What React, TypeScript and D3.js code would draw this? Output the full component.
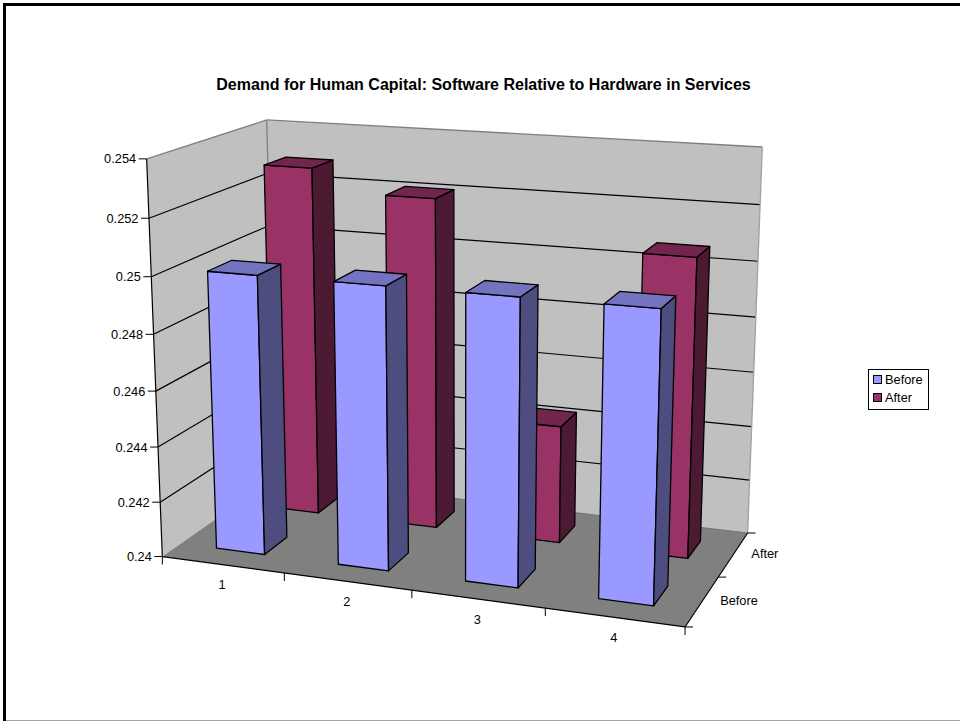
import React from "react";
import * as d3 from "d3";

const categories = ["1", "2", "3", "4"];
const seriesNames = ["Before", "After"];
const beforeValues = [0.25, 0.25, 0.25, 0.25];
const afterValues = [0.2529, 0.2521, 0.2443, 0.2507];
const yTicks = [0.24, 0.242, 0.244, 0.246, 0.248, 0.25, 0.252, 0.254];
const yTickLabels = ["0.24", "0.242", "0.244", "0.246", "0.248", "0.25", "0.252", "0.254"];

const FONT = "'Liberation Sans', Arial, sans-serif";
const seriesColors = {
  Before: { front: "#9999ff", top: "#7373bf", side: "#4d4d80" },
  After: { front: "#993366", top: "#73264d", side: "#4d1a33" },
};

type V3 = [number, number, number];

// Camera calibration for the unit plot box: (x, value, depth) -> screen point.
const calibration: [V3, [number, number]][] = [
  [[0, 0, 0], [162.3, 556.7]],
  [[1, 0, 0], [685, 627]],
  [[1, 0, 1], [747.7, 532.7]],
  [[0, 1, 0], [146.7, 159]],
  [[0, 1, 1], [266.7, 120]],
  [[1, 1, 1], [762.3, 146.7]],
  [[0, 4 / 7, 0], [153.6, 334]],
  [[1, 4 / 7, 1], [755.8, 317.7]],
];

// Least-squares fit of a 3x4 projective matrix whose last entry is fixed to 1.
function fitProjection(pairs: typeof calibration): number[] {
  const n = 11;
  const ata = Array.from({ length: n }, () => new Array(n + 1).fill(0));
  const addRow = (row: number[], rhs: number) => {
    for (let i = 0; i < n; i++) {
      for (let j = 0; j < n; j++) ata[i][j] += row[i] * row[j];
      ata[i][n] += row[i] * rhs;
    }
  };
  for (const [[x, y, z], [u, v]] of pairs) {
    addRow([x, y, z, 1, 0, 0, 0, 0, -u * x, -u * y, -u * z], u);
    addRow([0, 0, 0, 0, x, y, z, 1, -v * x, -v * y, -v * z], v);
  }
  for (let c = 0; c < n; c++) {
    let best = c;
    for (let r = c + 1; r < n; r++) if (Math.abs(ata[r][c]) > Math.abs(ata[best][c])) best = r;
    [ata[c], ata[best]] = [ata[best], ata[c]];
    for (let r = 0; r < n; r++) {
      if (r === c) continue;
      const f = ata[r][c] / ata[c][c];
      for (let k = c; k <= n; k++) ata[r][k] -= f * ata[c][k];
    }
  }
  return ata.map((row, i) => row[n] / row[i]);
}

const m = fitProjection(calibration);
const project = ([x, y, z]: V3): [number, number] => {
  const w = m[8] * x + m[9] * y + m[10] * z + 1;
  return [
    (m[0] * x + m[1] * y + m[2] * z + m[3]) / w,
    (m[4] * x + m[5] * y + m[6] * z + m[7]) / w,
  ];
};

const xBand = d3.scaleBand<string>().domain(categories).range([0, 1]);
const zBand = d3.scaleBand<string>().domain(seriesNames).range([0, 1]);
const yScale = d3.scaleLinear().domain([0.24, 0.254]).range([0, 1]);

const line = d3.line<V3>().x((p) => project(p)[0]).y((p) => project(p)[1]);
const closed = (pts: V3[]) => line(pts) + "Z";

function Bar({ cat, series, value }: { cat: string; series: "Before" | "After"; value: number }) {
  const bw = xBand.bandwidth();
  const bd = zBand.bandwidth();
  const x0 = xBand(cat)! + bw * 0.3;
  const x1 = x0 + bw * 0.4;
  const z0 = zBand(series)! + bd * 0.3;
  const z1 = z0 + bd * 0.4;
  const top = yScale(value);
  const colors = seriesColors[series];
  const faceProps = { stroke: "#000", strokeWidth: 1.3, strokeLinejoin: "round" as const };
  return (
    <g>
      <path d={closed([[x0, 0, z0], [x1, 0, z0], [x1, top, z0], [x0, top, z0]])} fill={colors.front} {...faceProps} />
      <path d={closed([[x1, 0, z0], [x1, 0, z1], [x1, top, z1], [x1, top, z0]])} fill={colors.side} {...faceProps} />
      <path d={closed([[x0, top, z0], [x1, top, z0], [x1, top, z1], [x0, top, z1]])} fill={colors.top} {...faceProps} />
    </g>
  );
}

export default function App() {
  const gridTicks = yTicks.slice(1, -1);
  const textProps = { fontFamily: FONT, fontSize: 12.8, fill: "#000" };
  const seg = (a: V3, b: V3, stroke: string, key?: string, w = 1.2) => {
    const [x1, y1] = project(a);
    const [x2, y2] = project(b);
    return <line key={key} x1={x1} y1={y1} x2={x2} y2={y2} stroke={stroke} strokeWidth={w} />;
  };
  return (
    <svg width={960} height={721} style={{ position: "fixed", left: 0, top: 0, background: "#fff" }}>
      {/* page frame: heavy top and left rules, faint bottom rule */}
      <rect x={3} y={3} width={957} height={3} fill="#000" />
      <rect x={3} y={3} width={3} height={718} fill="#000" />
      <rect x={6} y={720} width={954} height={1} fill="#a6a6a6" />

      <text x={483.5} y={90} textAnchor="middle" fontFamily={FONT} fontWeight="bold" fontSize={16}>
        Demand for Human Capital: Software Relative to Hardware in Services
      </text>

      <path d={closed([[0, 0, 0], [0, 1, 0], [0, 1, 1], [0, 0, 1]])} fill="#c0c0c0" />
      <path d={closed([[0, 0, 1], [0, 1, 1], [1, 1, 1], [1, 0, 1]])} fill="#c0c0c0" />
      <path d={closed([[0, 0, 0], [1, 0, 0], [1, 0, 1], [0, 0, 1]])} fill="#808080" />

      {gridTicks.map((t) => (
        <g key={t}>
          {seg([0, yScale(t), 0], [0, yScale(t), 1], "#000", "l")}
          {seg([0, yScale(t), 1], [1, yScale(t), 1], "#000", "b")}
        </g>
      ))}

      {seg([0, 1, 0], [0, 1, 1], "#808080", "e1", 1.3)}
      {seg([0, 1, 1], [1, 1, 1], "#808080", "e2", 1.3)}
      {seg([0, 1, 1], [0, 0, 1], "#808080", "e3", 1.3)}
      {seg([1, 1, 1], [1, 0, 1], "#a0a0a0", "e4", 1.3)}
      {seg([0, 0, 1], [1, 0, 1], "#707070", "e5", 1)}

      {afterValues.map((v, i) => (
        <Bar key={"a" + i} cat={categories[i]} series="After" value={v} />
      ))}
      {beforeValues.map((v, i) => (
        <Bar key={"b" + i} cat={categories[i]} series="Before" value={v} />
      ))}

      {/* value axis */}
      {seg([0, 0, 0], [0, 1, 0], "#000", "ya")}
      {yTicks.map((t, i) => {
        const [x, y] = project([0, yScale(t), 0]);
        return (
          <g key={t}>
            <line x1={x - 8} y1={y} x2={x} y2={y} stroke="#000" />
            <text x={x - 10.5} y={y} dy="0.35em" textAnchor="end" {...textProps}>
              {yTickLabels[i]}
            </text>
          </g>
        );
      })}

      {/* category axis */}
      {seg([0, 0, 0], [1, 0, 0], "#000", "xa")}
      {[0, 0.25, 0.5, 0.75, 1].map((t) => {
        const [x, y] = project([t, 0, 0]);
        return <line key={t} x1={x} y1={y} x2={x} y2={y + 8} stroke="#000" />;
      })}
      {categories.map((c) => {
        const [x, y] = project([xBand(c)! + xBand.bandwidth() / 2, 0, 0]);
        return (
          <text key={c} x={x - 0.5} y={y + 20} dy="0.35em" textAnchor="middle" {...textProps}>
            {c}
          </text>
        );
      })}

      {/* depth axis */}
      {seg([1, 0, 0], [1, 0, 1], "#000", "za")}
      {[0, 0.5, 1].map((t) => {
        const [x, y] = project([1, 0, t]);
        return <line key={t} x1={x} y1={y} x2={x + 8} y2={y} stroke="#000" />;
      })}
      {seriesNames.map((s) => {
        const [x, y] = project([1, 0, zBand(s)! + zBand.bandwidth() / 2]);
        return (
          <text key={s} x={x + 18} y={y - 0.5} dy="0.35em" {...textProps}>
            {s}
          </text>
        );
      })}

      {/* legend */}
      <rect x={868.5} y={369.5} width={60} height={40} fill="#fff" stroke="#000" />
      {seriesNames.map((s, i) => (
        <g key={s}>
          <rect
            x={873.5}
            y={375.5 + i * 18}
            width={8}
            height={8}
            fill={seriesColors[s as "Before" | "After"].front}
            stroke="#000"
          />
          <text x={885} y={379.5 + i * 18} dy="0.35em" {...textProps}>
            {s}
          </text>
        </g>
      ))}
    </svg>
  );
}
